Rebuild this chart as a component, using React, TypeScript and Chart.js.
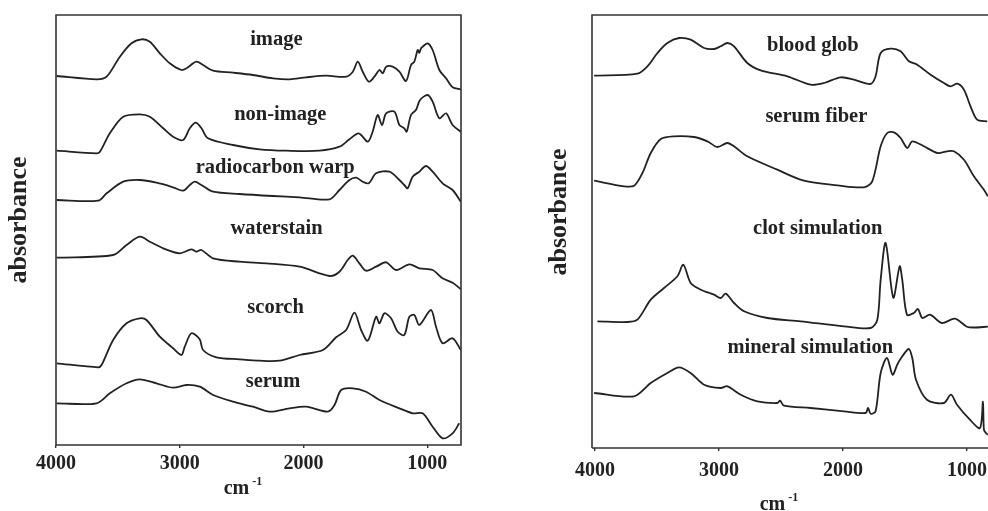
import React, { useEffect, useRef } from "react";
import { Chart, registerables } from "chart.js";
Chart.register(...registerables);

const tickValues = [4000, 3000, 2000, 1000];

// ---------- left panel ----------
const imageWn = [3995, 3672, 3591, 3484, 3390, 3309, 3242, 3161, 3081, 2987, 2946, 2866, 2812, 2731, 2570, 2409, 2247, 2113, 1979, 1817, 1656, 1602, 1562, 1522, 1473, 1428, 1387, 1360, 1333, 1280, 1226, 1172, 1132, 1105, 1078, 1065, 1051, 1038, 997, 957, 903, 849, 796, 729];
const imageAbs = [369, 365.7, 368.3, 388.3, 401.7, 405.7, 403.3, 391.7, 381.7, 375, 376.7, 383.3, 380, 374.3, 372.3, 370, 366.7, 365.7, 367.7, 369.3, 368.3, 373.3, 383.3, 373.3, 363.3, 368.3, 375, 371.7, 378.3, 378.3, 373.3, 364, 380, 383.3, 395, 392.3, 396.7, 398.3, 401.7, 395, 375, 366.7, 357.7, 355.7];

const nonImageWn = [3995, 3672, 3645, 3565, 3457, 3323, 3242, 3134, 3054, 2973, 2919, 2871, 2825, 2772, 2570, 2355, 2140, 1871, 1710, 1629, 1554, 1481, 1442, 1401, 1366, 1333, 1266, 1226, 1186, 1167, 1132, 1092, 1059, 997, 957, 903, 849, 796, 729];
const nonImageAbs = [294.3, 291.7, 293.3, 311.7, 328.3, 330.7, 328.3, 316.7, 308.3, 305, 316.7, 322.3, 316.7, 306.7, 300, 295.7, 294.3, 294.3, 298.3, 305.7, 311.7, 303.3, 313.3, 330, 320, 331.7, 333.3, 320, 316.7, 313.3, 330, 335, 345, 350, 343.3, 326.7, 331.7, 320, 313.3];

const radiocarbonWn = [3995, 3659, 3591, 3457, 3323, 3188, 3054, 2973, 2919, 2879, 2825, 2731, 2516, 2247, 2032, 1790, 1710, 1629, 1575, 1522, 1473, 1414, 1306, 1226, 1186, 1159, 1119, 1065, 1011, 957, 877, 796, 729];
const radiocarbonAbs = [245, 244.3, 251.7, 263.3, 265, 262.3, 257.7, 254.3, 260, 263.3, 260, 253.3, 251, 249, 247.7, 245.7, 255, 265, 267.3, 263.3, 261.7, 271.7, 273.3, 265, 260, 256.7, 268.3, 273.3, 279, 273.3, 261.7, 255, 243.3];

const waterstainWn = [3995, 3538, 3430, 3323, 3242, 3134, 3000, 2906, 2866, 2825, 2731, 2516, 2301, 2032, 1790, 1710, 1643, 1602, 1549, 1495, 1414, 1333, 1253, 1145, 1065, 957, 877, 796, 729];
const waterstainAbs = [187.3, 190, 200, 208.3, 203.3, 196.7, 191.7, 195.7, 193.3, 195, 186.7, 183.3, 181.7, 178.3, 169, 173.3, 185, 189.3, 181.7, 174.3, 178.3, 182.7, 175, 180.7, 176.7, 175, 166.7, 162.3, 155.7];

const scorchWn = [3995, 3659, 3632, 3538, 3430, 3323, 3269, 3161, 3054, 2987, 2960, 2906, 2839, 2812, 2704, 2516, 2355, 2194, 2032, 1844, 1737, 1656, 1589, 1535, 1481, 1414, 1387, 1347, 1293, 1239, 1186, 1145, 1105, 1065, 971, 930, 877, 796, 729];
const scorchAbs = [81.7, 77.7, 80, 105, 121.7, 126.7, 125, 108.3, 96.7, 90, 98.3, 111.7, 105.7, 95, 87.7, 85.7, 84.3, 84.3, 90, 95, 107.7, 115, 132.3, 115, 104.3, 128.3, 121.7, 131.7, 126.7, 113.3, 110, 128.3, 130, 120, 135, 118.3, 101.7, 106.7, 95];

const serumWn = [3995, 3672, 3565, 3430, 3323, 3188, 3054, 2946, 2839, 2731, 2570, 2409, 2274, 2113, 1979, 1804, 1750, 1696, 1602, 1495, 1387, 1226, 1119, 1038, 957, 877, 796, 742];
const serumAbs = [41.7, 41.7, 51.7, 61.7, 65.7, 61.7, 57.3, 60, 58.3, 50, 43.3, 38.3, 33.3, 36.7, 38.3, 33.3, 40, 55, 56.7, 53.3, 45, 36.7, 31.7, 31.7, 18.3, 6.7, 11.7, 21.7];

const leftLabels = ["image", "non-image", "radiocarbon warp", "waterstain", "scorch", "serum"];
const leftLabelWn = [2220, 2188, 2229, 2218, 2226, 2247];
const leftLabelAbs = [405.7, 330, 277.3, 216.7, 137.3, 63.3];

// ---------- right panel ----------
const bloodGlobWn = [4008, 3659, 3578, 3497, 3417, 3323, 3229, 3121, 3040, 2987, 2933, 2879, 2772, 2664, 2449, 2261, 2153, 2019, 1911, 1777, 1737, 1696, 1616, 1535, 1468, 1401, 1293, 1186, 1132, 1078, 1024, 971, 917, 836];
const bloodGlobAbs = [372.3, 374.3, 381.7, 395, 405, 410, 408.3, 400, 399, 401.7, 405, 401.7, 385, 377.7, 371.7, 363.3, 365, 370.7, 368.3, 364, 371.7, 395, 399.3, 396.7, 386.7, 383.3, 373.3, 365, 361.7, 364.3, 358.3, 341.7, 328.3, 326.7];

const serumFiberWn = [4008, 3766, 3685, 3618, 3551, 3470, 3363, 3202, 3094, 3014, 2933, 2879, 2772, 2530, 2315, 2046, 1831, 1764, 1696, 1643, 1589, 1535, 1481, 1441, 1347, 1239, 1159, 1105, 1024, 944, 863, 831];
const serumFiberAbs = [267.3, 261.7, 262.3, 275, 295, 309, 311.7, 311, 306.7, 301, 305, 301.7, 291.7, 278.3, 267.3, 262.7, 260.7, 266.7, 301.7, 315, 315.7, 310, 300, 306.7, 301.7, 295, 296.7, 296.7, 288.3, 271.7, 258.3, 251.7];

const clotWn = [3981, 3739, 3659, 3551, 3444, 3336, 3288, 3229, 3148, 3040, 2987, 2946, 2879, 2798, 2610, 2342, 1992, 1777, 1723, 1696, 1656, 1594, 1543, 1522, 1484, 1428, 1395, 1360, 1298, 1202, 1097, 1000, 944, 831];
const clotAbs = [126.7, 126, 128.3, 148.3, 160, 171.7, 183.3, 165, 158.3, 153.3, 150, 154.3, 145, 136.7, 130, 126.7, 121.7, 120, 128.3, 168.3, 205, 150.3, 181.7, 168.3, 133.3, 135, 139, 130, 133.3, 125, 129.3, 121.3, 120.5, 121.3];

const mineralWn = [4008, 3685, 3551, 3417, 3323, 3229, 3121, 2987, 2933, 2825, 2691, 2530, 2508, 2476, 2261, 1992, 1817, 1798, 1777, 1737, 1696, 1645, 1600, 1562, 1540, 1470, 1441, 1411, 1323, 1186, 1129, 1080, 976, 895, 871, 863, 847, 831];
const mineralAbs = [55, 51.7, 65, 75, 80.7, 75, 63.3, 60, 61.7, 53.3, 46.7, 45, 47.3, 42.3, 40, 36.7, 35, 40, 34.3, 36.7, 75, 90, 73.3, 83.3, 88.3, 99, 90, 68.3, 48.3, 45, 53.3, 43.3, 28.3, 20, 46.3, 18.3, 15, 13.3];

const rightLabels = ["blood glob", "serum fiber", "clot simulation", "mineral simulation"];
const rightLabelWn = [2243, 2215, 2204, 2264];
const rightLabelAbs = [402.3, 331, 219.7, 100];

const INK = "#222222";
const SERIF = '"Liberation Serif", "DejaVu Serif", serif';

function zip(wn: number[], abs: number[]) {
  return wn.map((w, i) => ({ x: w, y: abs[i] }));
}

const annotatePlugin = {
  id: "annotate",
  afterDraw(chart: any, _args: any, opts: any) {
    const ctx = chart.ctx as CanvasRenderingContext2D;
    const a = chart.chartArea;
    const xs = chart.scales.x;
    const ys = chart.scales.y;
    ctx.save();
    // frame
    ctx.strokeStyle = "#333333";
    ctx.lineWidth = 1.6;
    ctx.beginPath();
    ctx.moveTo(a.left, a.bottom);
    ctx.lineTo(a.left, a.top);
    ctx.lineTo(a.right, a.top);
    if (opts.frameRight) {
      ctx.lineTo(a.right, a.bottom);
    } else {
      ctx.moveTo(a.right, a.bottom);
    }
    ctx.lineTo(a.left, a.bottom);
    ctx.stroke();

    // series labels
    ctx.fillStyle = INK;
    ctx.font = `bold 20.5px ${SERIF}`;
    ctx.textAlign = "center";
    ctx.textBaseline = "middle";
    (opts.labels as string[]).forEach((t, i) => {
      ctx.fillText(t, xs.getPixelForValue(opts.labelWn[i]), ys.getPixelForValue(opts.labelAbs[i]));
    });

    // y title
    ctx.save();
    ctx.translate(opts.yTitleX, opts.yTitleY);
    ctx.rotate(-Math.PI / 2);
    ctx.font = `bold 26px ${SERIF}`;
    ctx.textBaseline = "middle";
    ctx.fillText("absorbance", 0, 0);
    ctx.restore();

    // x title cm-1
    ctx.textAlign = "left";
    ctx.textBaseline = "alphabetic";
    ctx.font = `bold 20px ${SERIF}`;
    const w1 = ctx.measureText("cm").width;
    ctx.font = `bold 12px ${SERIF}`;
    const w2 = ctx.measureText(" -1").width;
    const sx = opts.xTitleX - (w1 + w2) / 2;
    ctx.font = `bold 20px ${SERIF}`;
    ctx.fillText("cm", sx, opts.xTitleBase);
    ctx.font = `bold 12px ${SERIF}`;
    ctx.fillText(" -1", sx + w1, opts.xTitleBase - 9);
    ctx.restore();
  },
};

type PanelProps = {
  series: { x: number; y: number }[][];
  xMin: number;
  xMax: number;
  yMax: number;
  padTop: number;
  padRight: number;
  yWidth: number;
  xHeight: number;
  tickPad: number;
  frameRight: boolean;
  labels: string[];
  labelWn: number[];
  labelAbs: number[];
  yTitleX: number;
  yTitleY: number;
  xTitleX: number;
  xTitleBase: number;
};

function Panel(p: PanelProps & { left: number }) {
  const ref = useRef<HTMLCanvasElement | null>(null);
  useEffect(() => {
    if (!ref.current) return;
    const chart = new Chart(ref.current, {
      type: "line",
      data: {
        datasets: p.series.map((d) => ({
          data: d,
          borderColor: INK,
          borderWidth: 1.8,
          pointRadius: 0,
          tension: 0.3,
          fill: false,
        })),
      },
      options: {
        animation: false,
        responsive: false,
        maintainAspectRatio: false,
        parsing: false as any,
        layout: { padding: { top: p.padTop, right: p.padRight, left: 0, bottom: 0 } },
        plugins: {
          legend: { display: false },
          tooltip: { enabled: false },
          annotate: {
            frameRight: p.frameRight,
            labels: p.labels,
            labelWn: p.labelWn,
            labelAbs: p.labelAbs,
            yTitleX: p.yTitleX,
            yTitleY: p.yTitleY,
            xTitleX: p.xTitleX,
            xTitleBase: p.xTitleBase,
          },
        } as any,
        scales: {
          x: {
            type: "linear",
            reverse: true,
            min: p.xMin,
            max: p.xMax,
            border: { display: false },
            grid: { display: true, drawOnChartArea: false, drawTicks: true, tickLength: 3, color: "#333333", lineWidth: 1.4 },
            ticks: {
              color: INK,
              font: { family: SERIF, size: 20, weight: "bold" },
              padding: p.tickPad,
              maxRotation: 0,
              autoSkip: false,
              callback: (v: any) => String(v),
            },
            afterBuildTicks: (scale: any) => {
              scale.ticks = tickValues.map((v) => ({ value: v }));
            },
            afterFit: (scale: any) => {
              scale.height = p.xHeight;
              scale.paddingLeft = 0;
              scale.paddingRight = 0;
            },
          },
          y: {
            type: "linear",
            min: 0,
            max: p.yMax,
            border: { display: false },
            grid: { display: false },
            ticks: { display: false },
            afterFit: (scale: any) => {
              scale.width = p.yWidth;
            },
          },
        },
      },
      plugins: [annotatePlugin as any],
    });
    return () => chart.destroy();
  }, []);
  return (
    <div style={{ position: "absolute", left: p.left, top: 0, width: 494, height: 511 }}>
      <canvas ref={ref} width={494} height={511} style={{ width: 494, height: 511, display: "block" }} />
    </div>
  );
}

export default function App() {
  return (
    <div style={{ position: "absolute", left: 0, top: 0, width: 988, height: 511, background: "#ffffff", overflow: "hidden" }}>
      <Panel
        left={0}
        series={[
          zip(imageWn, imageAbs),
          zip(nonImageWn, nonImageAbs),
          zip(radiocarbonWn, radiocarbonAbs),
          zip(waterstainWn, waterstainAbs),
          zip(scorchWn, scorchAbs),
          zip(serumWn, serumAbs),
        ]}
        xMin={728}
        xMax={4000}
        yMax={430}
        padTop={15}
        padRight={33}
        yWidth={56}
        xHeight={66}
        tickPad={4}
        frameRight={true}
        labels={leftLabels}
        labelWn={leftLabelWn}
        labelAbs={leftLabelAbs}
        yTitleX={19}
        yTitleY={220}
        xTitleX={243}
        xTitleBase={494}
      />
      <Panel
        left={494}
        series={[
          zip(bloodGlobWn, bloodGlobAbs),
          zip(serumFiberWn, serumFiberAbs),
          zip(clotWn, clotAbs),
          zip(mineralWn, mineralAbs),
        ]}
        xMin={830}
        xMax={4025}
        yMax={433}
        padTop={15}
        padRight={0}
        yWidth={98}
        xHeight={63}
        tickPad={8}
        frameRight={false}
        labels={rightLabels}
        labelWn={rightLabelWn}
        labelAbs={rightLabelAbs}
        yTitleX={65}
        yTitleY={212}
        xTitleX={285}
        xTitleBase={510}
      />
    </div>
  );
}
